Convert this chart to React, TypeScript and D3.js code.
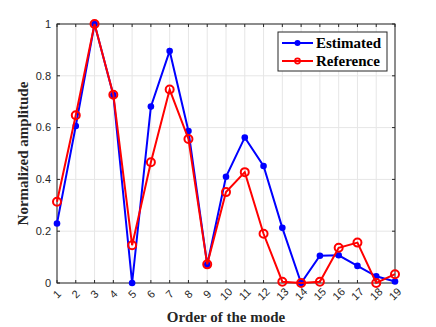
import React, { useEffect, useRef } from "react";
import * as d3 from "d3";

const modes = d3.range(1, 20);
const estimated = [0.23, 0.606, 1.0, 0.726, 0.0, 0.681, 0.896, 0.587, 0.071, 0.41, 0.562, 0.452, 0.213, 0.0, 0.105, 0.107, 0.066, 0.026, 0.006];
const reference = [0.314, 0.648, 1.0, 0.727, 0.146, 0.466, 0.747, 0.556, 0.072, 0.351, 0.428, 0.19, 0.005, 0.0, 0.005, 0.136, 0.156, 0.0, 0.034];
const yTicks = [0, 0.2, 0.4, 0.6, 0.8, 1];
const yTickLabels = ["0", "0.2", "0.4", "0.6", "0.8", "1"];

const App = () => {
  const svgRef = useRef<SVGSVGElement>(null);

  useEffect(() => {
    const svg = d3.select(svgRef.current);
    svg.selectAll("*").remove();

    // plot area
    const left = 57, right = 395, top = 24, bottom = 283;

    const x = d3.scaleLinear().domain([1, 19]).range([left, right]);
    const y = d3.scaleLinear().domain([0, 1]).range([bottom, top]);

    svg.append("rect").attr("width", 436).attr("height", 327).attr("fill", "#fff");

    // grid
    const grid = svg.append("g").attr("stroke", "#e6e6e6").attr("stroke-width", 1);
    modes.forEach((m) => {
      grid.append("line").attr("x1", x(m)).attr("x2", x(m)).attr("y1", top).attr("y2", bottom);
    });
    yTicks.forEach((t) => {
      grid.append("line").attr("x1", left).attr("x2", right).attr("y1", y(t)).attr("y2", y(t));
    });

    // box
    svg.append("rect")
      .attr("x", left).attr("y", top)
      .attr("width", right - left).attr("height", bottom - top)
      .attr("fill", "none").attr("stroke", "#262626").attr("stroke-width", 1);

    // ticks (inward)
    const ticks = svg.append("g").attr("stroke", "#262626").attr("stroke-width", 1);
    modes.forEach((m) => {
      ticks.append("line").attr("x1", x(m)).attr("x2", x(m)).attr("y1", bottom).attr("y2", bottom - 3);
      ticks.append("line").attr("x1", x(m)).attr("x2", x(m)).attr("y1", top).attr("y2", top + 3);
    });
    yTicks.forEach((t) => {
      ticks.append("line").attr("x1", left).attr("x2", left + 3).attr("y1", y(t)).attr("y2", y(t));
      ticks.append("line").attr("x1", right).attr("x2", right - 3).attr("y1", y(t)).attr("y2", y(t));
    });

    // y tick labels
    svg.append("g")
      .selectAll("text")
      .data(yTicks)
      .join("text")
      .attr("x", left - 6)
      .attr("y", (d) => y(d))
      .attr("dy", "0.35em")
      .attr("text-anchor", "end")
      .attr("font-family", "Liberation Sans, Arial, sans-serif")
      .attr("font-size", 11)
      .attr("fill", "#262626")
      .text((d, i) => yTickLabels[i]);

    // x tick labels, rotated 45
    svg.append("g")
      .selectAll("text")
      .data(modes)
      .join("text")
      .attr("transform", (d) => `translate(${x(d)}, ${bottom + 11}) rotate(-45)`)
      .attr("dy", "0.35em")
      .attr("text-anchor", "middle")
      .attr("font-family", "Liberation Sans, Arial, sans-serif")
      .attr("font-size", 11)
      .attr("fill", "#262626")
      .text((d) => String(d));

    // axis titles
    svg.append("text")
      .attr("x", (left + right) / 2)
      .attr("y", 322)
      .attr("text-anchor", "middle")
      .attr("font-family", "Liberation Serif, Times New Roman, serif")
      .attr("font-weight", "bold")
      .attr("font-size", 15)
      .attr("fill", "#262626")
      .text("Order of the mode");

    svg.append("text")
      .attr("transform", `translate(28, ${(top + bottom) / 2}) rotate(-90)`)
      .attr("text-anchor", "middle")
      .attr("font-family", "Liberation Serif, Times New Roman, serif")
      .attr("font-weight", "bold")
      .attr("font-size", 15)
      .attr("fill", "#262626")
      .text("Normalized amplitude");

    const line = d3.line<number>()
      .x((d, i) => x(modes[i]))
      .y((d) => y(d));

    // estimated series (blue, filled dots)
    svg.append("path")
      .datum(estimated)
      .attr("fill", "none")
      .attr("stroke", "#0000ff")
      .attr("stroke-width", 2)
      .attr("d", line);
    svg.append("g")
      .selectAll("circle")
      .data(estimated)
      .join("circle")
      .attr("cx", (d, i) => x(modes[i]))
      .attr("cy", (d) => y(d))
      .attr("r", 3.3)
      .attr("fill", "#0000ff");

    // reference series (red, open circles)
    svg.append("path")
      .datum(reference)
      .attr("fill", "none")
      .attr("stroke", "#ff0000")
      .attr("stroke-width", 2)
      .attr("d", line);
    svg.append("g")
      .selectAll("circle")
      .data(reference)
      .join("circle")
      .attr("cx", (d, i) => x(modes[i]))
      .attr("cy", (d) => y(d))
      .attr("r", 4)
      .attr("fill", "none")
      .attr("stroke", "#ff0000")
      .attr("stroke-width", 2);

    // legend
    const lg = svg.append("g");
    lg.append("rect")
      .attr("x", 278).attr("y", 32).attr("width", 109).attr("height", 39)
      .attr("fill", "#fff").attr("stroke", "#262626").attr("stroke-width", 1);
    const items = [
      { name: "Estimated", color: "#0000ff", filled: true },
      { name: "Reference", color: "#ff0000", filled: false },
    ];
    items.forEach((it, i) => {
      const ly = 43 + i * 18;
      lg.append("line")
        .attr("x1", 282).attr("x2", 313).attr("y1", ly).attr("y2", ly)
        .attr("stroke", it.color).attr("stroke-width", 2);
      lg.append("circle")
        .attr("cx", 297.5).attr("cy", ly)
        .attr("r", it.filled ? 3 : 2.6)
        .attr("fill", it.filled ? it.color : "none")
        .attr("stroke", it.filled ? "none" : it.color)
        .attr("stroke-width", 1.6);
      lg.append("text")
        .attr("x", 316).attr("y", ly)
        .attr("dy", "0.35em")
        .attr("font-family", "Liberation Serif, Times New Roman, serif")
        .attr("font-weight", "bold")
        .attr("font-size", 15)
        .attr("fill", "#000")
        .text(it.name);
    });
  }, []);

  return (
    <svg
      ref={svgRef}
      width={436}
      height={327}
      style={{ position: "absolute", left: 0, top: 0 }}
    ></svg>
  );
};

export default App;
